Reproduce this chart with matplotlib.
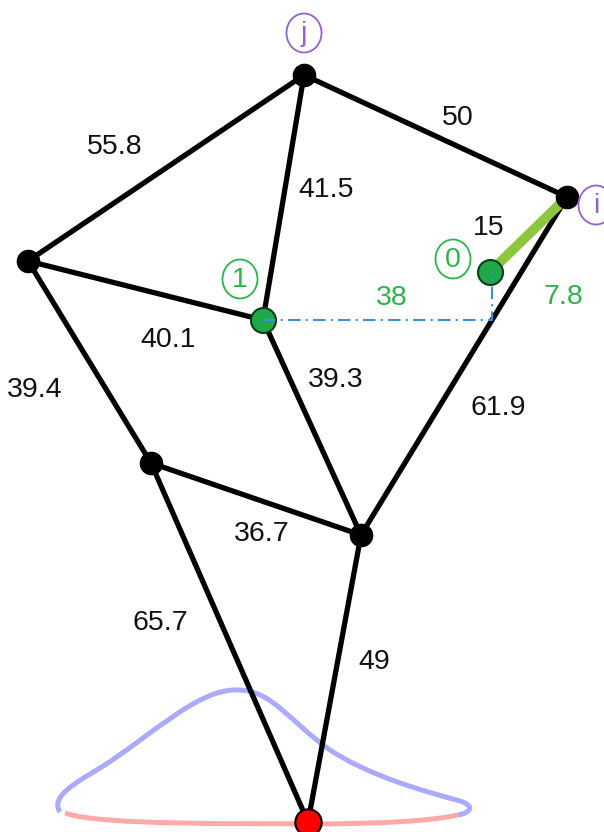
import matplotlib
matplotlib.use('Agg')
import matplotlib.pyplot as plt
from matplotlib.patches import Ellipse, PathPatch
from matplotlib.path import Path

plt.rcParams['font.family'] = ['Liberation Sans', 'DejaVu Sans']

# node coordinates (pixel space of the drawing, y grows downwards)
nodes = {
    'j': (304, 75),
    'i': (567, 197),
    'left': (28, 261),
    'n1': (263, 320),
    'midleft': (151, 463),
    'center': (361, 535),
    'bottom': (308, 822),
    'n0': (490, 272),
}

# edges with their lengths
edges = [('j', 'left'), ('j', 'i'), ('j', 'n1'), ('left', 'n1'),
         ('left', 'midleft'), ('n1', 'center'), ('i', 'center'),
         ('midleft', 'center'), ('midleft', 'bottom'), ('center', 'bottom')]
edge_lengths = ['55.8', '50', '41.5', '40.1', '39.4', '39.3', '61.9',
                '36.7', '65.7', '49']
label_pos = [(115, 147), (458, 118), (326, 190), (168, 340), (35, 390),
             (336, 380), (498, 408), (262, 534), (160, 623), (374, 662)]

# offset of the free point from node 1
dx_val = '38'
dy_val = '7.8'
move_len = '15'

# distribution curve under the bottom node
blue_curve = [(60, 812), (50, 797), (75, 783), (100, 768),
              (150, 737), (198, 688), (238, 690),
              (272, 690), (290, 722), (330, 750),
              (370, 776), (420, 790), (460, 801),
              (476, 806), (470, 813), (458, 815)]
red_curve = [(65, 813), (100, 826), (250, 823), (308, 824),
             (380, 824), (430, 821), (458, 815)]

fig = plt.figure(figsize=(6.04, 8.32), dpi=100)
ax = fig.add_axes([0, 0, 1, 1])
ax.set_xlim(0, 604)
ax.set_ylim(832, 0)
ax.axis('off')

txt = '#111111'
green = '#2db34a'
purple = '#9462cc'
fs = 20.5

# curves
codes = [Path.MOVETO] + [Path.CURVE4] * (len(blue_curve) - 1)
ax.add_patch(PathPatch(Path(blue_curve, codes), fill=False, ec='#aaaaff', lw=3.6, zorder=1))
codes = [Path.MOVETO] + [Path.CURVE4] * (len(red_curve) - 1)
ax.add_patch(PathPatch(Path(red_curve, codes), fill=False, ec='#ffaaaa', lw=3.6, zorder=1))

# black edges
for (a, b), lab, (lx, ly) in zip(edges, edge_lengths, label_pos):
    xa, ya = nodes[a]
    xb, yb = nodes[b]
    ax.plot([xa, xb], [ya, yb], color='black', lw=3.8, solid_capstyle='round', zorder=2)
    ax.text(lx, ly, lab, color=txt, fontsize=fs, ha='center', va='center', zorder=5)

# green move line from node 0 to i
ax.plot([nodes['n0'][0], nodes['i'][0]], [nodes['n0'][1], nodes['i'][1]],
        color='#8cc63f', lw=7, solid_capstyle='round', zorder=3)

# black nodes
for k in ['j', 'i', 'left', 'midleft', 'center']:
    ax.plot(*nodes[k], 'o', color='black', ms=16, zorder=4)
ax.plot(*nodes['bottom'], 'o', color='red', mec='black', mew=1.5, ms=19, zorder=4)
for k in ['n1', 'n0']:
    ax.plot(*nodes[k], 'o', color='#1fa84a', mec='#0b3d18', mew=1.5, ms=18, zorder=4)

# dash-dot offset lines
x1, y1 = nodes['n1']
x0, y0 = nodes['n0']
ax.plot([x1, x0 + 2, x0 + 2], [y1, y1, y0], color='#3f8fdc', lw=1.5,
        linestyle=(0, (6, 2.5, 1, 2.5)), zorder=6)
ax.text(392, 298, dx_val, color=green, fontsize=fs, ha='center', va='center', zorder=5)
ax.text(563, 297, dy_val, color=green, fontsize=fs, ha='center', va='center', zorder=5)
ax.text(489, 228, move_len, color=txt, fontsize=fs, ha='center', va='center', zorder=5)

# circled labels
circles = [('j', (304, 33), purple), ('i', (596, 205), purple),
           ('0', (453, 259), green), ('1', (240, 279), green)]
for lab, (cx, cy), col in circles:
    ax.add_patch(Ellipse((cx, cy), 35, 39, fill=False, ec=col, lw=1.3, zorder=5))
    ax.text(cx, cy + 1, lab, color=col, fontsize=fs, ha='center', va='center', zorder=5)

fig.savefig('out.png', dpi=100)
